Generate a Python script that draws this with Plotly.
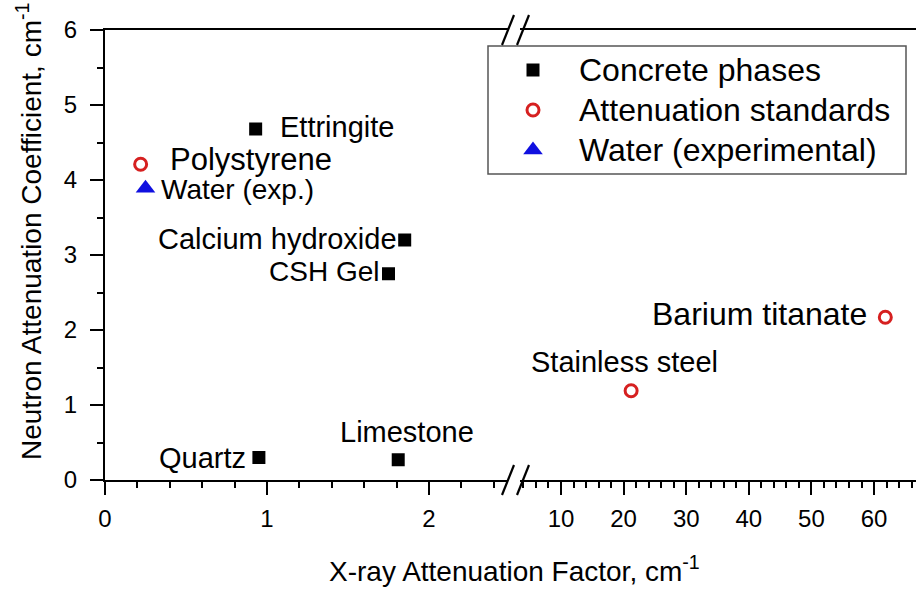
import plotly.graph_objects as go

# Concrete phases (all on the low-range x segment)
phase_names = ["Quartz", "Limestone", "CSH Gel", "Calcium hydroxide", "Ettringite"]
phase_x = [0.95, 1.81, 1.75, 1.85, 0.93]
phase_y = [0.30, 0.27, 2.75, 3.20, 4.68]

# Attenuation standards: low-range segment
std_low_names = ["Polystyrene"]
std_low_x = [0.22]
std_low_y = [4.21]

# Attenuation standards: high-range segment
std_high_names = ["Stainless steel", "Barium titanate"]
std_high_x = [21.2, 61.8]
std_high_y = [1.19, 2.17]

# Experimental water
water_names = ["Water (exp.)"]
water_x = [0.25]
water_y = [3.89]

legend_labels = ["Concrete phases", "Attenuation standards", "Water (experimental)"]

FONT = "Liberation Sans, Arial, sans-serif"
W, H = 916, 589
L, R, T, B = 105, 0, 30, 109
PW, PH = W - L - R, H - T - B


def px(xp):
    return (xp - L) / PW


def py(yp):
    return (T + PH - yp) / PH


sq = dict(symbol="square", size=13, color="black")
circ = dict(symbol="circle-open", size=12, color="#d62020", line=dict(width=3, color="#d62020"))
tri = dict(symbol="triangle-up", size=17, color="#1010e0")

fig = go.Figure()
fig.add_trace(go.Scatter(x=phase_x, y=phase_y, mode="markers", marker=sq, xaxis="x", yaxis="y"))
fig.add_trace(go.Scatter(x=std_low_x, y=std_low_y, mode="markers", marker=circ, xaxis="x", yaxis="y"))
fig.add_trace(go.Scatter(x=std_high_x, y=std_high_y, mode="markers", marker=circ, xaxis="x2", yaxis="y"))
fig.add_trace(go.Scatter(x=water_x, y=water_y, mode="markers", marker=tri, xaxis="x", yaxis="y"))

# Legend key markers on a separate full-width axis pair
leg_rows = [py(70), py(110), py(150)]
for m, yy in zip([sq, circ, tri], leg_rows):
    fig.add_trace(go.Scatter(x=[px(533)], y=[yy], mode="markers", marker=m,
                             xaxis="x3", yaxis="y3", hoverinfo="skip"))

ann = []

# point label placement: anchor, xshift, yshift, font size
offsets = {
    "Quartz": ("right", -11, 0, 29),
    "Limestone": ("center", 9, 28, 29),
    "CSH Gel": ("right", -8, 2, 28),
    "Calcium hydroxide": ("right", -6, 1, 29),
    "Ettringite": ("left", 22, 2, 29),
    "Polystyrene": ("left", 27, 5, 31),
    "Water (exp.)": ("left", 13, -1, 28),
    "Stainless steel": ("center", -7, 29, 29),
    "Barium titanate": ("right", -16, 3, 32),
}
groups = [
    (phase_names, phase_x, phase_y, "x"),
    (std_low_names, std_low_x, std_low_y, "x"),
    (std_high_names, std_high_x, std_high_y, "x2"),
    (water_names, water_x, water_y, "x"),
]
for names, xs, ys, xr in groups:
    for n, xv, yv in zip(names, xs, ys):
        xa, dx, dy, fs = offsets[n]
        ann.append(dict(showarrow=False, text=n, x=xv, y=yv, xref=xr, yref="y",
                        xanchor=xa, yanchor="middle", xshift=dx, yshift=dy,
                        font=dict(family=FONT, size=fs, color="black")))

# legend texts
for t, yy in zip(legend_labels, leg_rows):
    ann.append(dict(showarrow=False, text=t, x=px(577), y=yy, xref="paper", yref="paper",
                    xanchor="left", yanchor="middle", font=dict(family=FONT, size=32, color="black")))

# axis titles
ann.append(dict(showarrow=False, text="X-ray Attenuation Factor, cm<sup>-1</sup>",
                x=px(514), y=py(569), xref="paper", yref="paper", xanchor="center", yanchor="middle",
                font=dict(family=FONT, size=28, color="black")))
ann.append(dict(showarrow=False, text="Neutron Attenuation Coefficient, cm<sup>-1</sup>",
                x=px(29), y=py(232), xref="paper", yref="paper", xanchor="center", yanchor="middle",
                textangle=-90, font=dict(family=FONT, size=28, color="black")))

shapes = [
    # legend frame
    dict(type="rect", xref="paper", yref="paper", x0=px(488), x1=px(906), y0=py(174), y1=py(46),
         line=dict(color="#555555", width=1.5), fillcolor="rgba(0,0,0,0)"),
]
# axis break marks, bottom and top
for yc in (480, 30):
    for xc in (508, 523):
        shapes.append(dict(type="line", xref="paper", yref="paper",
                           x0=px(xc - 6), y0=py(yc + 15), x1=px(xc + 6), y1=py(yc - 15),
                           line=dict(color="black", width=2.2)))

tickfont = dict(family=FONT, size=24, color="black")
axis_common = dict(showline=True, linecolor="black", linewidth=2, mirror=True,
                   ticks="outside", ticklen=13, tickwidth=2, tickcolor="black",
                   showgrid=False, zeroline=False, tickfont=tickfont)
minor_common = dict(ticks="outside", ticklen=6, tickwidth=2, tickcolor="black")

fig.update_layout(
    width=W, height=H,
    margin=dict(l=L, r=R, t=T, b=B),
    plot_bgcolor="rgba(0,0,0,0)", paper_bgcolor="white",
    showlegend=False,
    xaxis=dict(axis_common, domain=[0, px(508)], range=[0, (508 - L) / 162.0],
               tick0=0, dtick=1, anchor="y", ticklabelstandoff=3,
               minor=dict(minor_common, dtick=0.2)),
    xaxis2=dict(axis_common, domain=[px(520), 1], range=[3.45, 66.7],
                tick0=0, dtick=10, anchor="y", ticklabelstandoff=3,
                minor=dict(minor_common, dtick=2)),
    yaxis=dict(axis_common, mirror=False, range=[0, 6], tick0=0, dtick=1, anchor="x",
               ticklabelstandoff=8, minor=dict(minor_common, dtick=0.5)),
    xaxis3=dict(domain=[0, 1], range=[0, 1], visible=False, anchor="y3"),
    yaxis3=dict(domain=[0, 1], range=[0, 1], visible=False, anchor="x3"),
    annotations=ann,
    shapes=shapes,
)

fig.write_html("out.html")
